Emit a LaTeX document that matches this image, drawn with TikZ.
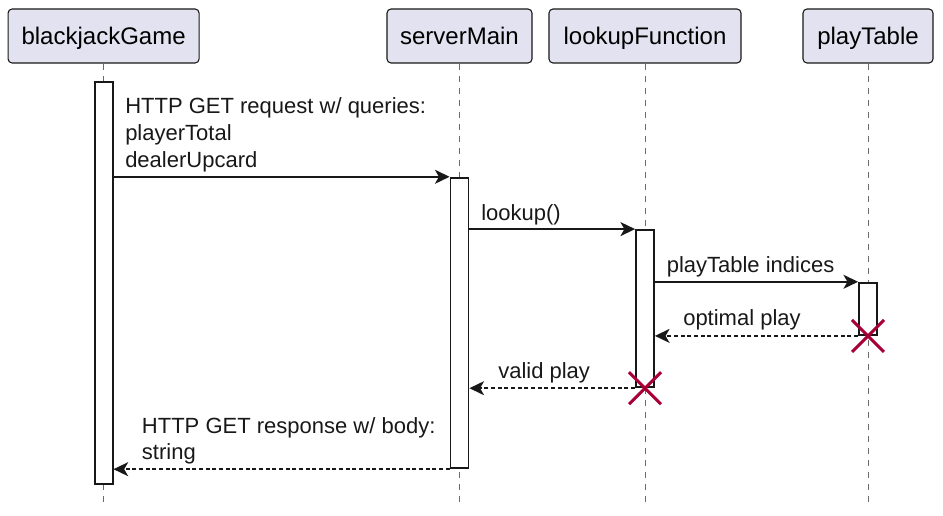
\documentclass[tikz,border=0pt]{standalone}
\usepackage{fontspec}
\setmainfont{Liberation Sans}
\usetikzlibrary{arrows.meta}
\definecolor{partfill}{HTML}{E2E2F0}
\definecolor{ink}{HTML}{181818}
\definecolor{lifegray}{HTML}{6A6A6A}
\definecolor{destroyred}{HTML}{A80036}
\def\pxu{0.75pt}
\tikzset{
  partbox/.style={draw=ink, fill=partfill, line width=0.8pt, rounded corners=3pt,
    minimum height=54*\pxu, inner sep=0pt, text depth=0pt, font=\fontsize{18}{22}\selectfont},
  actbar/.style={draw=ink, fill=white, line width=1.35pt, minimum width=18*\pxu, inner sep=0pt},
  lifeline/.style={draw=lifegray, line width=0.75pt, dash pattern=on 4.5pt off 4.5pt},
  msg/.style={draw=ink, line width=1.25pt, -{Stealth[length=11pt, width=10.5pt, inset=3pt]}},
  reply/.style={msg, dash pattern=on 3pt off 2pt},
  msglabel/.style={inner sep=0pt, anchor=base west, align=left,
    font=\fontsize{16.5}{20.25}\selectfont, text=ink},
  destroy/.style={draw=destroyred, line width=2.25pt}
}
\begin{document}
\begin{tikzpicture}[x=0.75pt, y=-0.75pt]
\useasboundingbox (0,0) rectangle (943,516);
% participants
\node[partbox, minimum width=191*\pxu] (bj) at (103.6,36) {blackjackGame};
\node[partbox, minimum width=145*\pxu] (sm) at (459.5,36) {serverMain};
\node[partbox, minimum width=192*\pxu] (lf) at (645,36) {lookupFunction};
\node[partbox, minimum width=130*\pxu] (pt) at (868,36) {playTable};
% lifeline ends
\coordinate (bjEnd) at (103.6,506);
\coordinate (smEnd) at (459.5,506);
\coordinate (lfEnd) at (645,506);
\coordinate (ptEnd) at (868,506);
\draw[lifeline] (bj.south) -- (bjEnd);
\draw[lifeline] (sm.south) -- (smEnd);
\draw[lifeline] (lf.south) -- (lfEnd);
\draw[lifeline] (pt.south) -- (ptEnd);
% activation bars
\node[actbar, minimum height=402.3*\pxu] (bjA) at (103.6,282.85) {};
\node[actbar, minimum height=290.6*\pxu] (smA) at (459.5,323) {};
\node[actbar, minimum height=157.3*\pxu] (lfA) at (645,308.65) {};
\node[actbar, minimum height=52.3*\pxu] (ptA) at (868,308.85) {};
% messages
\draw[msg] (bjA.east |- smA.north) -- (smA.north west);
\node[msglabel] (l1) at (125,167.3) {HTTP GET request w/ queries:\\playerTotal\\dealerUpcard};
\draw[msg] (smA.east |- lfA.north) -- (lfA.north west);
\node[msglabel] (l2) at (481,221) {lookup()};
\draw[msg] (lfA.east |- ptA.north) -- (ptA.north west);
\node[msglabel] (l3) at (666.5,272.7) {playTable indices};
\draw[reply] (ptA.south west) -- (lfA.east |- ptA.south);
\node[msglabel] (l4) at (683,326) {optimal play};
\draw[reply] (lfA.south west) -- (smA.east |- lfA.south);
\node[msglabel] (l5) at (498,378.3) {valid play};
\draw[reply] (smA.south west) -- (bjA.east |- smA.south);
\node[msglabel] (l6) at (141.7,460) {HTTP GET response w/ body:\\string};
% destroy marks
\draw[destroy] ([shift={(-16,-16)}]ptA.south) -- ([shift={(16,16)}]ptA.south)
  ([shift={(-16,16)}]ptA.south) -- ([shift={(16,-16)}]ptA.south);
\draw[destroy] ([shift={(-16,-16)}]lfA.south) -- ([shift={(16,16)}]lfA.south)
  ([shift={(-16,16)}]lfA.south) -- ([shift={(16,-16)}]lfA.south);
\end{tikzpicture}
\end{document}
